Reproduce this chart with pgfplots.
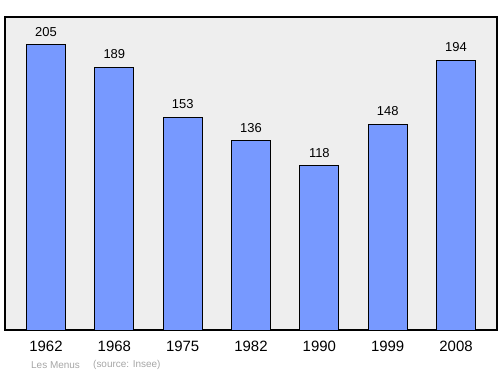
\documentclass[border=0pt]{standalone}
\usepackage{pgfplots}
\pgfplotsset{compat=1.18}
\usepackage{fontspec}
\setmainfont{Liberation Sans}
\definecolor{barblue}{HTML}{7799FF}
\definecolor{bgray}{HTML}{EEEEEE}
\begin{document}
\begin{tikzpicture}[x=1bp,y=1bp]
\useasboundingbox (0,0) rectangle (500,374);
\begin{axis}[
  at={(5bp,44bp)}, anchor=south west,
  scale only axis, width=492bp, height=313bp,
  xmin=-0.6, xmax=6.6, ymin=0, ymax=225,
  axis background/.style={fill=bgray},
  axis line style={black, line width=1.2pt},
  xtick=data,
  xticklabels={1962,1968,1975,1982,1990,1999,2008},
  ytick=\empty,
  major tick length=0pt,
  xticklabel style={font=\fontsize{15}{17}\selectfont, yshift=-8bp},
  ybar, bar width=39bp,
  nodes near coords,
  every node near coord/.append style={font=\fontsize{13}{15}\selectfont, yshift=4.5bp},
  /pgf/number format/assume math mode=true,
]
\addplot[fill=barblue, draw=black, line width=0.8pt] coordinates {
(0,205) (1,189) (2,153) (3,136) (4,118) (5,148) (6,194)};
\end{axis}
\node[anchor=west, text=gray!70, font=\fontsize{10}{12}\selectfont, inner sep=0pt] at (31,9) {Les Menus};
\node[anchor=west, text=gray!70, font=\fontsize{10}{12}\selectfont, inner sep=0pt] at (93,9) {(source: Insee)};
\end{tikzpicture}
\end{document}
